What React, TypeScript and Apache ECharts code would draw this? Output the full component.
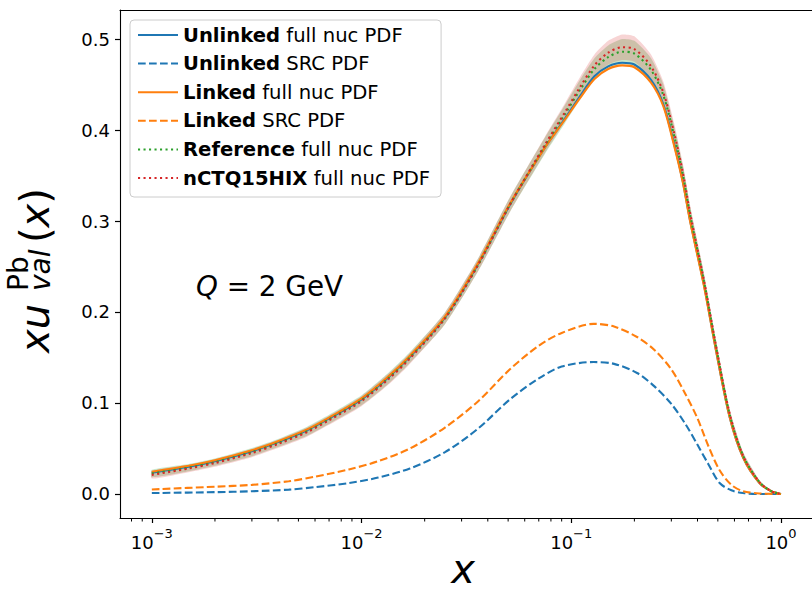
import React, { useEffect, useRef } from 'react';
import * as echarts from 'echarts';

// ---- data ----
const xFull = [0.001, 0.0015, 0.002, 0.003, 0.004, 0.0055, 0.007, 0.01, 0.0134, 0.0167, 0.025, 0.036, 0.051, 0.075, 0.093, 0.11, 0.129, 0.15, 0.175, 0.2, 0.24, 0.275, 0.31, 0.34, 0.37, 0.43, 0.49, 0.57, 0.66, 0.79, 0.9, 1.0];
const unlinkedFull = [0.0235, 0.030, 0.036, 0.047, 0.057, 0.070, 0.083, 0.104, 0.128, 0.149, 0.194, 0.253, 0.318, 0.381, 0.412, 0.437, 0.459, 0.470, 0.474, 0.472, 0.455, 0.428, 0.384, 0.344, 0.299, 0.229, 0.158, 0.084, 0.040, 0.012, 0.003, 0.0];
const linkedFull = [0.0245, 0.031, 0.037, 0.048, 0.058, 0.071, 0.084, 0.105, 0.129, 0.150, 0.195, 0.254, 0.319, 0.381, 0.411, 0.435, 0.456, 0.467, 0.471, 0.469, 0.452, 0.426, 0.382, 0.343, 0.298, 0.228, 0.158, 0.084, 0.040, 0.012, 0.003, 0.0];
const referenceFull = [0.0225, 0.029, 0.035, 0.046, 0.056, 0.069, 0.082, 0.103, 0.127, 0.148, 0.193, 0.252, 0.318, 0.383, 0.417, 0.444, 0.467, 0.480, 0.486, 0.484, 0.466, 0.438, 0.393, 0.352, 0.305, 0.233, 0.162, 0.087, 0.042, 0.013, 0.003, 0.0];
const nctqFull = [0.021, 0.028, 0.034, 0.045, 0.055, 0.068, 0.081, 0.102, 0.126, 0.147, 0.193, 0.252, 0.318, 0.384, 0.419, 0.447, 0.471, 0.485, 0.491, 0.489, 0.470, 0.441, 0.396, 0.354, 0.307, 0.234, 0.163, 0.088, 0.042, 0.013, 0.003, 0.0];
const referenceLo = [0.0185, 0.025, 0.031, 0.0415, 0.0515, 0.064, 0.077, 0.0975, 0.121, 0.142, 0.1865, 0.245, 0.310, 0.374, 0.407, 0.433, 0.455, 0.467, 0.472, 0.470, 0.453, 0.426, 0.382, 0.342, 0.296, 0.225, 0.155, 0.082, 0.038, 0.011, 0.002, 0.0];
const referenceHi = [0.0265, 0.033, 0.039, 0.0505, 0.0605, 0.074, 0.087, 0.1085, 0.133, 0.154, 0.1995, 0.259, 0.326, 0.392, 0.427, 0.455, 0.479, 0.493, 0.500, 0.498, 0.479, 0.450, 0.404, 0.362, 0.314, 0.241, 0.169, 0.092, 0.046, 0.015, 0.004, 0.0];
const nctqLo = [0.017, 0.024, 0.030, 0.0405, 0.0505, 0.063, 0.076, 0.0965, 0.120, 0.141, 0.1865, 0.245, 0.310, 0.375, 0.409, 0.436, 0.459, 0.472, 0.477, 0.475, 0.457, 0.429, 0.385, 0.344, 0.298, 0.226, 0.156, 0.083, 0.038, 0.011, 0.002, 0.0];
const nctqHi = [0.025, 0.032, 0.038, 0.0495, 0.0595, 0.073, 0.086, 0.1075, 0.132, 0.153, 0.1995, 0.259, 0.326, 0.393, 0.429, 0.458, 0.483, 0.498, 0.505, 0.503, 0.483, 0.453, 0.407, 0.364, 0.316, 0.242, 0.170, 0.093, 0.046, 0.015, 0.004, 0.0];

const xSrc = [0.001, 0.002, 0.003, 0.0045, 0.006, 0.0087, 0.012, 0.017, 0.025, 0.036, 0.051, 0.07, 0.09, 0.128, 0.16, 0.206, 0.25, 0.3, 0.35, 0.4, 0.45, 0.51, 0.58, 0.66, 0.8, 1.0];
const unlinkedSrc = [0.001, 0.002, 0.003, 0.0048, 0.0075, 0.012, 0.018, 0.028, 0.046, 0.072, 0.104, 0.127, 0.140, 0.145, 0.143, 0.133, 0.118, 0.099, 0.077, 0.054, 0.033, 0.012, 0.004, 0.001, 0.0, 0.0];
const linkedSrc = [0.005, 0.008, 0.010, 0.014, 0.019, 0.027, 0.036, 0.050, 0.073, 0.102, 0.137, 0.163, 0.177, 0.187, 0.184, 0.1725, 0.158, 0.137, 0.110, 0.083, 0.053, 0.026, 0.010, 0.003, 0.0005, 0.0];

const xMajorTicks = [0.001, 0.01, 0.1, 1];
const xMinorTicks = [0.0008, 0.0009, 0.002, 0.003, 0.004, 0.005, 0.006, 0.007, 0.008, 0.009, 0.02, 0.03, 0.04, 0.05, 0.06, 0.07, 0.08, 0.09, 0.2, 0.3, 0.4, 0.5, 0.6, 0.7, 0.8, 0.9];
const xTickExponents = ['−3', '−2', '−1', '0'];
const yTicks = [0, 0.1, 0.2, 0.3, 0.4, 0.5];

const FONT = 'DejaVu Sans';
const C_BLUE = '#1f77b4';
const C_ORANGE = '#ff7f0e';
const C_GREEN = '#2ca02c';
const C_RED = '#d62728';

const X_MIN = 0.000705;
const X_MAX = 1.406;
const Y_MIN = -0.0264;
const Y_MAX = 0.5319;

function pairs(xs: number[], ys: number[]) {
  return xs.map((x, i) => [x, ys[i]]);
}

function bandSeries(lo: number[], hi: number[], color: string, opacity: number) {
  return {
    type: 'custom',
    silent: true,
    clip: true,
    z: 1,
    xAxisIndex: 0,
    yAxisIndex: 0,
    data: xFull.map((x, i) => [x, lo[i], hi[i]]),
    encode: { x: 0, y: [1, 2] },
    renderItem: (params: any, api: any) => {
      if (params.dataIndex !== 0) return null;
      const pts: number[][] = [];
      for (let i = 0; i < xFull.length; i++) pts.push(api.coord([xFull[i], hi[i]]));
      for (let i = xFull.length - 1; i >= 0; i--) pts.push(api.coord([xFull[i], lo[i]]));
      return {
        type: 'polygon',
        shape: { points: pts, smooth: 0.2 },
        style: { fill: color, opacity, stroke: null },
      };
    },
  };
}

function lineSeries(name: string, xs: number[], ys: number[], color: string, type: any, z: number) {
  return {
    name,
    type: 'line',
    data: pairs(xs, ys),
    symbol: 'none',
    showSymbol: false,
    smooth: 0.3,
    z,
    lineStyle: { color, width: 2.1, type },
    itemStyle: { color },
  };
}

export default function App() {
  const ref = useRef<HTMLDivElement>(null);
  useEffect(() => {
    const chart = echarts.init(ref.current!, null, { renderer: 'svg' });
    const baseX = {
      type: 'log',
      logBase: 10,
      min: X_MIN,
      max: X_MAX,
      gridIndex: 0,
      splitLine: { show: false },
      minorTick: { show: false },
      minorSplitLine: { show: false },
    };
    const option: any = {
      animation: false,
      backgroundColor: '#ffffff',
      textStyle: { fontFamily: FONT, color: '#000' },
      grid: { left: 120, right: -4, top: 10, bottom: 75, containLabel: false },
      xAxis: [
        {
          ...baseX,
          position: 'bottom',
          axisLine: { show: true, onZero: false, lineStyle: { color: '#000', width: 1.1 } },
          axisTick: { show: true, customValues: xMajorTicks, length: 5, lineStyle: { color: '#000', width: 1.2 } },
          axisLabel: {
            show: true,
            customValues: xMajorTicks,
            margin: 9,
            color: '#000',
            fontFamily: FONT,
            fontSize: 18,
            formatter: (v: number) => {
              const idx = xMajorTicks.findIndex((t) => Math.abs(Math.log10(t) - Math.log10(v)) < 1e-6);
              return '{b|10}{s|' + (idx >= 0 ? xTickExponents[idx] : '') + '}';
            },
            rich: {
              b: { fontFamily: FONT, fontSize: 18, color: '#000', lineHeight: 24, verticalAlign: 'bottom' },
              s: { fontFamily: FONT, fontSize: 13, color: '#000', lineHeight: 14, verticalAlign: 'top' },
            },
          },
        },
        {
          ...baseX,
          position: 'top',
          axisLine: { show: true, onZero: false, lineStyle: { color: '#000', width: 1.1 } },
          axisTick: { show: false },
          axisLabel: { show: false },
        },
      ],
      yAxis: [
        {
          type: 'value',
          min: Y_MIN,
          max: Y_MAX,
          splitLine: { show: false },
          axisLine: { show: true, onZero: false, lineStyle: { color: '#000', width: 1.1 } },
          axisTick: { show: true, customValues: yTicks, length: 5, lineStyle: { color: '#000', width: 1.2 } },
          axisLabel: {
            show: true,
            customValues: yTicks,
            margin: 10,
            color: '#000',
            fontFamily: FONT,
            fontSize: 18,
            formatter: (v: number) => v.toFixed(1),
          },
        },
      ],
      legend: {
        show: true,
        orient: 'vertical',
        left: 130,
        top: 20,
        padding: [5, 11, 9, 7],
        itemGap: 8.6,
        itemWidth: 40,
        itemHeight: 14,
        itemTextGap: 16,
        backgroundColor: 'rgba(255,255,255,0.8)',
        borderColor: '#cccccc',
        borderWidth: 1,
        borderRadius: 4,
        itemStyle: { opacity: 0 },
        data: [
          'Unlinked full nuc PDF',
          'Unlinked SRC PDF',
          'Linked full nuc PDF',
          'Linked SRC PDF',
          'Reference full nuc PDF',
          'nCTQ15HIX full nuc PDF',
        ],
        formatter: (name: string) => {
          const i = name.indexOf(' ');
          return '{b|' + name.slice(0, i) + '}' + name.slice(i);
        },
        textStyle: {
          fontFamily: FONT,
          fontSize: 19.6,
          color: '#000',
          lineHeight: 20,
          rich: { b: { fontFamily: FONT, fontSize: 19.6, fontWeight: 'bold', color: '#000', lineHeight: 20 } },
        },
      },
      series: [
        bandSeries(referenceLo, referenceHi, C_GREEN, 0.25),
        bandSeries(nctqLo, nctqHi, C_RED, 0.2),
        lineSeries('Unlinked full nuc PDF', xFull, unlinkedFull, C_BLUE, 'solid', 3),
        lineSeries('Unlinked SRC PDF', xSrc, unlinkedSrc, C_BLUE, [7.7, 3.3], 3),
        lineSeries('Linked full nuc PDF', xFull, linkedFull, C_ORANGE, 'solid', 4),
        lineSeries('Linked SRC PDF', xSrc, linkedSrc, C_ORANGE, [7.7, 3.3], 4),
        lineSeries('Reference full nuc PDF', xFull, referenceFull, C_GREEN, [2.1, 3.4], 5),
        lineSeries('nCTQ15HIX full nuc PDF', xFull, nctqFull, C_RED, [2.1, 3.4], 6),
        {
          type: 'custom',
          silent: true,
          clip: false,
          z: 10,
          data: xMinorTicks.map((x) => [x, Y_MIN]),
          encode: { x: 0, y: 1 },
          renderItem: (params: any, api: any) => {
            const p = api.coord([api.value(0), Y_MIN]);
            return {
              type: 'line',
              shape: { x1: p[0], y1: p[1], x2: p[0], y2: p[1] + 3.5 },
              style: { stroke: '#000', lineWidth: 1 },
            };
          },
        },
      ],
      graphic: [
        {
          type: 'text',
          left: 196,
          top: 272,
          style: {
            text: '{i|Q} = 2 GeV',
            fontFamily: FONT,
            fontSize: 27.8,
            fill: '#000',
            rich: { i: { fontFamily: FONT, fontSize: 27.8, fontStyle: 'italic', fill: '#000' } },
          },
        },
        {
          type: 'text',
          x: 463,
          y: 569,
          style: {
            text: 'x',
            fontFamily: FONT,
            fontSize: 40,
            fontStyle: 'italic',
            fill: '#000',
            align: 'center',
            verticalAlign: 'middle',
          },
        },
        {
          type: 'group',
          x: 49,
          y: 353,
          rotation: Math.PI / 2,
          children: [
            { type: 'text', x: 0, y: -14, style: { text: 'xu', fontFamily: FONT, fontSize: 40, fontStyle: 'italic', fill: '#000', align: 'left', verticalAlign: 'middle' } },
            { type: 'text', x: 62, y: -31, style: { text: 'Pb', fontFamily: FONT, fontSize: 28, fill: '#000', align: 'left', verticalAlign: 'middle' } },
            { type: 'text', x: 62, y: -9, style: { text: 'val', fontFamily: FONT, fontSize: 28, fontStyle: 'italic', fill: '#000', align: 'left', verticalAlign: 'middle' } },
            {
              type: 'text', x: 110, y: -14,
              style: {
                text: '{n|(}{i|x}{n|)}', fontFamily: FONT, fontSize: 40, fill: '#000', align: 'left', verticalAlign: 'middle',
                rich: {
                  n: { fontFamily: FONT, fontSize: 40, fill: '#000' },
                  i: { fontFamily: FONT, fontSize: 40, fontStyle: 'italic', fill: '#000' },
                },
              },
            },
          ],
        },
      ],
    };
    chart.setOption(option);
    return () => chart.dispose();
  }, []);
  return <div ref={ref} style={{ width: 812, height: 593, position: 'absolute', left: 0, top: 0 }} />;
}
